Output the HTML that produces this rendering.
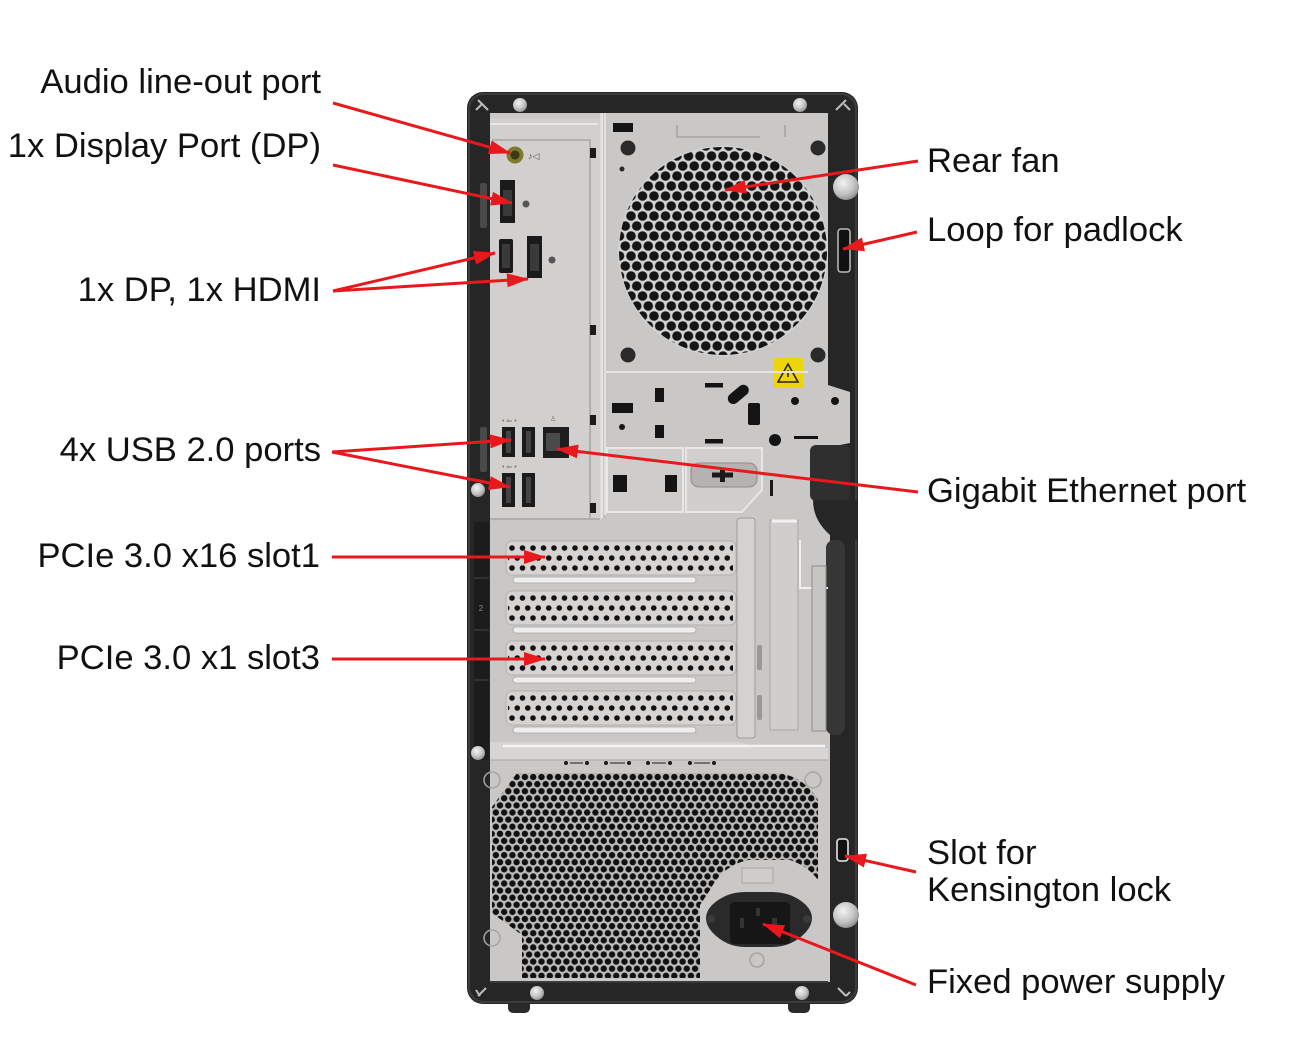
<!DOCTYPE html>
<html><head><meta charset="utf-8"><style>
html,body{margin:0;padding:0;background:#fff;}
svg{display:block;}
text{font-family:"Liberation Sans",Arial,sans-serif;}
</style></head><body>
<svg width="1290" height="1050" viewBox="0 0 1290 1050" xmlns="http://www.w3.org/2000/svg">
<defs>
  <pattern id="fanp" patternUnits="userSpaceOnUse" x="717.25" y="246" width="11.5" height="20">
    <g fill="#151515"><circle cx="0" cy="0" r="4.8"/><circle cx="11.5" cy="0" r="4.8"/><circle cx="5.75" cy="10" r="4.8"/><circle cx="0" cy="20" r="4.8"/><circle cx="11.5" cy="20" r="4.8"/></g>
  </pattern>
  <pattern id="psup" patternUnits="userSpaceOnUse" x="500" y="777" width="8.3" height="14.2">
    <g fill="#111"><circle cx="0" cy="0" r="3.2"/><circle cx="8.3" cy="0" r="3.2"/><circle cx="4.15" cy="7.1" r="3.2"/><circle cx="0" cy="14.2" r="3.2"/><circle cx="8.3" cy="14.2" r="3.2"/></g>
  </pattern>
  <pattern id="pcip" patternUnits="userSpaceOnUse" x="512" y="548" width="10.5" height="20">
    <g fill="#121212"><circle cx="0" cy="0" r="2.8"/><circle cx="10.5" cy="0" r="2.8"/><circle cx="5.25" cy="10" r="2.8"/><circle cx="0" cy="20" r="2.8"/><circle cx="10.5" cy="20" r="2.8"/></g>
  </pattern>
  <radialGradient id="scr" cx="40%" cy="35%" r="70%">
    <stop offset="0" stop-color="#f2f2f2"/><stop offset="0.6" stop-color="#c4c4c4"/><stop offset="1" stop-color="#8a8a8a"/>
  </radialGradient>
  <marker id="ah" viewBox="0 0 22 14" refX="21" refY="7" markerWidth="22" markerHeight="14" markerUnits="userSpaceOnUse" orient="auto">
    <path d="M0,0 L22,7 L0,14 z" fill="#e8181d"/>
  </marker>
</defs>

<rect width="1290" height="1050" fill="#fff"/>

<!-- feet -->
<rect x="508" y="995" width="22" height="18" rx="5" fill="#2a2a2a"/>
<rect x="788" y="995" width="22" height="18" rx="5" fill="#2a2a2a"/>

<!-- case frame -->
<rect x="467" y="92" width="391" height="912" rx="16" fill="#262626"/>
<rect x="469" y="94" width="387" height="908" rx="15" fill="none" stroke="#3c3c3c" stroke-width="2"/>

<!-- main silver panel -->
<path d="M490,113 H828 V385 L850,392 V443 L830,447 V982 H490 Z" fill="#cac8c6"/>
<!-- dark handle region right -->
<rect x="810" y="445" width="40" height="56" rx="6" fill="#2f2f2f"/>
<rect x="826" y="540" width="19" height="195" rx="8" fill="#363636"/>
<path d="M813,500 Q813,520 830,535 L830,540 L858,540 L858,500 Z" fill="#262626"/>

<!-- left strip numbers area -->
<rect x="474" y="522" width="15" height="238" fill="#1c1c1c"/>
<line x1="474" y1="578" x2="489" y2="578" stroke="#444"/>
<line x1="474" y1="630" x2="489" y2="630" stroke="#444"/>
<line x1="474" y1="680" x2="489" y2="680" stroke="#444"/>
<text x="481" y="611" font-size="8" fill="#888" text-anchor="middle">2</text>

<!-- corner marks -->
<g stroke="#bdbdbd" stroke-width="2" fill="none">
  <path d="M478,100 L488,110 M476,110 L482,104"/>
  <path d="M846,100 L836,110 M850,110 L844,104"/>
  <path d="M478,996 L486,988 M476,990 L480,996"/>
  <path d="M846,996 L838,988 M850,992 L846,996"/>
</g>

<!-- I/O shield -->
<rect x="490" y="118" width="112" height="402" fill="#d2d0ce"/>
<path d="M492,140 H590 V518" fill="none" stroke="#a8a6a4" stroke-width="1.5"/>
<line x1="602" y1="113" x2="602" y2="518" stroke="#e6e4e2" stroke-width="3"/>
<line x1="604" y1="113" x2="604" y2="518" stroke="#a5a3a1" stroke-width="1"/>
<path d="M490,124 H598" stroke="#e8e8e8" stroke-width="2"/>
<path d="M490,519 H600" stroke="#a5a3a1" stroke-width="1.5"/>
<g fill="#1c1c1c">
  <rect x="590" y="148" width="6" height="10"/>
  <rect x="590" y="325" width="6" height="10"/>
  <rect x="590" y="415" width="6" height="10"/>
  <rect x="590" y="503" width="6" height="10"/>
</g>

<!-- left frame brackets -->
<rect x="480" y="183" width="7" height="45" rx="2" fill="#4a4a4a"/>
<rect x="480" y="427" width="7" height="45" rx="2" fill="#4a4a4a"/>
<circle cx="478" cy="490" r="7" fill="url(#scr)"/>

<!-- ports -->
<circle cx="515" cy="155" r="8.5" fill="#7c7a2c"/>
<circle cx="515" cy="155" r="4.5" fill="#3b3a18"/>
<text x="528" y="159" font-size="9" fill="#555">♪◁</text>
<path d="M500,180 H515 V223 H500 Z" fill="#1b1b1b"/><rect x="503" y="190" width="9" height="26" fill="#3a3a3a"/>
<circle cx="526" cy="204" r="3.5" fill="#555"/>
<rect x="499" y="239" width="14" height="34" rx="2" fill="#1b1b1b"/><rect x="502" y="244" width="8" height="24" fill="#3a3a3a"/>
<path d="M527,236 H542 V278 H527 Z" fill="#1b1b1b"/><rect x="530" y="244" width="9" height="27" fill="#3a3a3a"/>
<circle cx="552" cy="260" r="3.5" fill="#555"/>
<g fill="#1b1b1b">
  <rect x="502" y="427" width="13" height="30"/>
  <rect x="522" y="427" width="13" height="30"/>
  <rect x="502" y="473" width="13" height="34"/>
  <rect x="522" y="473" width="13" height="34"/>
</g>
<g fill="#444"><rect x="506" y="431" width="5" height="22"/><rect x="526" y="431" width="5" height="22"/><rect x="506" y="477" width="5" height="26"/><rect x="526" y="477" width="5" height="26"/></g>
<g fill="#777" font-size="7"><text x="502" y="423">• ⇐ •</text><text x="502" y="469">• ⇐ •</text><text x="550" y="421">♙</text></g>
<rect x="543" y="427" width="26" height="31" fill="#1e1e1e"/>
<rect x="546" y="433" width="14" height="18" fill="#4a4a4a"/>

<!-- fan section -->
<line x1="605" y1="113" x2="605" y2="515" stroke="#e2e0de" stroke-width="2"/>
<rect x="613" y="123" width="20" height="9" fill="#151515"/>
<path d="M677,125 V137 H760 M785,125 V137" fill="none" stroke="#9d9b99" stroke-width="1.2"/>
<circle cx="723" cy="251" r="105" fill="#d3d3d3"/>
<circle cx="723" cy="251" r="104" fill="url(#fanp)"/>
<g fill="#2a2a2a">
  <circle cx="628" cy="148" r="7.5"/><circle cx="818" cy="148" r="7.5"/>
  <circle cx="628" cy="355" r="7.5"/><circle cx="818" cy="355" r="7.5"/>
  <circle cx="622" cy="169" r="2.5"/>
</g>
<rect x="773" y="358" width="30" height="30" fill="#eed40a"/>
<path d="M788,364 L798,382 H778 Z" fill="none" stroke="#222" stroke-width="1.6"/>
<line x1="788" y1="370" x2="788" y2="377" stroke="#222" stroke-width="1.6"/>
<line x1="606" y1="372" x2="808" y2="372" stroke="#e6e4e2" stroke-width="2"/>

<!-- middle lower panel -->
<g fill="#141414">
  <rect x="705" y="383" width="18" height="4.5"/>
  <rect x="726" y="389" width="24" height="11" rx="5.5" transform="rotate(-40 738 394)"/>
  <rect x="655" y="388" width="9" height="14"/>
  <rect x="612" y="403" width="21" height="10"/>
  <rect x="748" y="403" width="12" height="22" rx="2"/>
  <circle cx="795" cy="401" r="4"/><circle cx="835" cy="401" r="4"/>
  <circle cx="622" cy="427" r="3"/>
  <rect x="655" y="425" width="9" height="13"/>
  <rect x="705" y="439" width="18" height="4.5"/>
  <circle cx="775" cy="440" r="6"/>
  <rect x="794" y="436" width="24" height="3"/>
</g>
<path d="M607,448 H683 V512 H607 Z" fill="#cfcdcb" stroke="#e9e7e5" stroke-width="2"/>
<path d="M686,448 H762 V490 L742,512 H686 Z" fill="#d1cfcd" stroke="#e9e7e5" stroke-width="2"/>
<rect x="613" y="475" width="14" height="17" fill="#141414"/>
<rect x="665" y="475" width="12" height="17" fill="#141414"/>
<rect x="691" y="463" width="66" height="24" rx="8" fill="#b5b3b1" stroke="#8d8b89"/>
<path d="M712,475 H733 M722.5,468 V482" stroke="#1a1a1a" stroke-width="5"/>
<rect x="770" y="480" width="3" height="16" fill="#1a1a1a"/>

<!-- PCIe area -->
<g>
  <rect x="506" y="541" width="230" height="34" rx="6" fill="#d6d4d2" stroke="#b3b1af"/>
  <rect x="508" y="545" width="225" height="26" fill="url(#pcip)"/>
  <rect x="513" y="577" width="183" height="6" rx="3" fill="#eeeeee" stroke="#a9a7a5" stroke-width="0.8"/>
</g>
<g transform="translate(0,50)">
  <rect x="506" y="541" width="230" height="34" rx="6" fill="#d6d4d2" stroke="#b3b1af"/>
  <rect x="508" y="545" width="225" height="26" fill="url(#pcip)"/>
  <rect x="513" y="577" width="183" height="6" rx="3" fill="#eeeeee" stroke="#a9a7a5" stroke-width="0.8"/>
</g>
<g transform="translate(0,100)">
  <rect x="506" y="541" width="230" height="34" rx="6" fill="#d6d4d2" stroke="#b3b1af"/>
  <rect x="508" y="545" width="225" height="26" fill="url(#pcip)"/>
  <rect x="513" y="577" width="183" height="6" rx="3" fill="#eeeeee" stroke="#a9a7a5" stroke-width="0.8"/>
</g>
<g transform="translate(0,150)">
  <rect x="506" y="541" width="230" height="34" rx="6" fill="#d6d4d2" stroke="#b3b1af"/>
  <rect x="508" y="545" width="225" height="26" fill="url(#pcip)"/>
  <rect x="513" y="577" width="183" height="6" rx="3" fill="#eeeeee" stroke="#a9a7a5" stroke-width="0.8"/>
</g>
<!-- bracket -->
<rect x="737" y="518" width="18" height="220" rx="3" fill="#d4d2d0" stroke="#9f9d9b"/>
<rect x="757" y="645" width="5" height="25" rx="2" fill="#9a9896"/>
<rect x="757" y="695" width="5" height="25" rx="2" fill="#9a9896"/>
<rect x="770" y="520" width="28" height="210" fill="#cfcdcb" stroke="#a9a7a5"/>
<line x1="772" y1="521" x2="797" y2="521" stroke="#f0f0f0" stroke-width="3"/>
<path d="M800,540 V588 H828" fill="none" stroke="#f0f0f0" stroke-width="2"/>
<rect x="812" y="566" width="14" height="165" fill="#c7c5c3" stroke="#8f8d8b"/>
<!-- horizontal bar -->
<path d="M490,742 H735 Q745,742 755,748 H828 V760 H490 Z" fill="#d7d5d3"/>
<line x1="503" y1="746" x2="825" y2="746" stroke="#f4f4f4" stroke-width="2.5"/>
<line x1="490" y1="760" x2="828" y2="760" stroke="#a9a7a5" stroke-width="1"/>
<g fill="#1a1a1a">
  <circle cx="566" cy="763" r="2"/><circle cx="587" cy="763" r="2"/><rect x="570" y="762.5" width="13" height="1"/>
  <circle cx="606" cy="763" r="2"/><circle cx="629" cy="763" r="2"/><rect x="610" y="762.5" width="15" height="1"/>
  <circle cx="648" cy="763" r="2"/><circle cx="670" cy="763" r="2"/><rect x="652" y="762.5" width="14" height="1"/>
  <circle cx="690" cy="763" r="2"/><circle cx="714" cy="763" r="2"/><rect x="694" y="762.5" width="16" height="1"/>
</g>

<!-- PSU grid -->
<path d="M517,773 H780 Q805,778 818,800 V880 Q808,866 790,860 H748 Q722,866 710,890 L700,905 V978 H522 V935 L492,913 V807 Z" fill="#bdbbb9"/>
<path d="M517,773 H780 Q805,778 818,800 V880 Q808,866 790,860 H748 Q722,866 710,890 L700,905 V978 H522 V935 L492,913 V807 Z" fill="url(#psup)"/>
<g fill="none" stroke="#a7a5a3" stroke-width="1.5">
  <circle cx="492" cy="780" r="8"/><circle cx="813" cy="780" r="8"/>
  <circle cx="492" cy="938" r="8"/><circle cx="757" cy="960" r="7"/>
</g>
<rect x="742" y="868" width="31" height="15" fill="#cfcdcb" stroke="#a9a7a5"/>
<!-- power socket -->
<path d="M712,905 Q726,892 745,892 H772 Q792,892 806,905 Q818,918 806,932 Q792,947 772,947 H745 Q726,947 712,932 Q700,918 712,905 Z" fill="#2a2a2a"/>
<rect x="730" y="902" width="60" height="42" rx="4" fill="#161616"/>
<circle cx="711" cy="919" r="4" fill="#3a3a3a"/><circle cx="807" cy="919" r="4" fill="#3a3a3a"/>
<rect x="740" y="918" width="4" height="10" fill="#333"/><rect x="756" y="908" width="4" height="8" fill="#333"/><rect x="772" y="918" width="5" height="8" fill="#333"/>

<!-- bottom frame band edge -->
<line x1="490" y1="982" x2="828" y2="982" stroke="#3a3a3a" stroke-width="2"/>

<!-- frame hardware -->
<circle cx="520" cy="105" r="7" fill="url(#scr)"/>
<circle cx="800" cy="105" r="7" fill="url(#scr)"/>
<circle cx="537" cy="993" r="7" fill="url(#scr)"/>
<circle cx="802" cy="993" r="7" fill="url(#scr)"/>
<circle cx="478" cy="753" r="7" fill="url(#scr)"/>
<circle cx="846" cy="187" r="13" fill="url(#scr)"/>
<circle cx="846" cy="915" r="13" fill="url(#scr)"/>
<rect x="838" y="229" width="12" height="43" rx="3" fill="#111" stroke="#bdbdbd" stroke-width="1.5"/>
<rect x="837" y="839" width="11" height="22" rx="3" fill="#111" stroke="#cfcfcf" stroke-width="1.8"/>

<!-- arrows -->
<g stroke="#e8181d" stroke-width="3" fill="none" marker-end="url(#ah)">
  <line x1="333" y1="103" x2="510" y2="153"/>
  <line x1="333" y1="165" x2="512" y2="203"/>
  <line x1="333" y1="291" x2="495" y2="253"/>
  <line x1="333" y1="291" x2="528" y2="279"/>
  <line x1="332" y1="452" x2="511" y2="440"/>
  <line x1="332" y1="452" x2="510" y2="487"/>
  <line x1="332" y1="557" x2="545" y2="557"/>
  <line x1="332" y1="659" x2="545" y2="659"/>
  <line x1="918" y1="161" x2="725" y2="190"/>
  <line x1="917" y1="232" x2="843" y2="249"/>
  <line x1="918" y1="492" x2="557" y2="449"/>
  <line x1="916" y1="872" x2="845" y2="856"/>
  <line x1="916" y1="985" x2="763" y2="924"/>
</g>

<!-- labels -->
<g font-size="34.6" fill="#111">
  <text x="321" y="93" text-anchor="end">Audio line-out port</text>
  <text x="321" y="157" text-anchor="end">1x Display Port (DP)</text>
  <text x="321" y="301" text-anchor="end">1x DP, 1x HDMI</text>
  <text x="321" y="461" text-anchor="end">4x USB 2.0 ports</text>
  <text x="320" y="567" text-anchor="end">PCIe 3.0 x16 slot1</text>
  <text x="320" y="669" text-anchor="end">PCIe 3.0 x1 slot3</text>
  <text x="927" y="172">Rear fan</text>
  <text x="927" y="241">Loop for padlock</text>
  <text x="927" y="502">Gigabit Ethernet port</text>
  <text x="927" y="864">Slot for</text>
  <text x="927" y="901">Kensington lock</text>
  <text x="927" y="993">Fixed power supply</text>
</g>
</svg>
</body></html>
